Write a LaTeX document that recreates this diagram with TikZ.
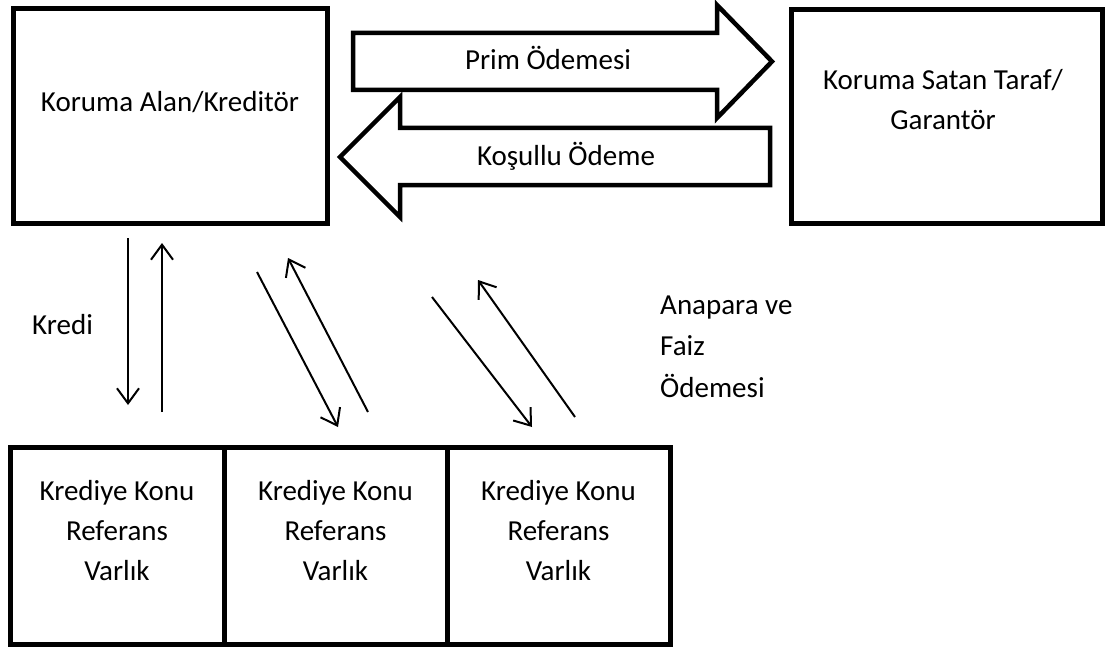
\documentclass[tikz,border=0pt]{standalone}
\usepackage{fontspec}
\setmainfont{Carlito}
\usetikzlibrary{arrows.meta}
\begin{document}
\begin{tikzpicture}[x=1pt,y=-1pt,
  box/.style={draw=black,line width=5pt,fill=white,inner sep=0pt,minimum width=#1},
  lbl/.style={inner sep=0pt,anchor=base,font=\fontsize{29}{40}\selectfont,align=center},
  lbll/.style={inner sep=0pt,anchor=base west,font=\fontsize{29}{41.5}\selectfont,align=left},
  bigarrow/.style={draw=black,line width=4.5pt,fill=white,line join=miter},
  thin/.style={draw=black,line width=2pt,-{Straight Barb[length=15pt,width=22pt,line width=2pt]}}
]
\useasboundingbox (0,0) rectangle (1107,647);

% main boxes
\node[box=314pt,minimum height=214pt] (ka) at (170,116) {};
\node[box=311pt,minimum height=213pt] (ks) at (946.5,116.5) {};
\node[lbl] (ka-t) at (170,112) {Koruma Alan/Kreditör};
\node[lbl] (ks-t) at (943,130) {Koruma Satan Taraf/\\Garantör};

% big arrows
\draw[bigarrow] (353,33) -- (717,33) -- (717,5) -- (772,61.5) -- (717,118) -- (717,90) -- (353,90) -- cycle;
\draw[bigarrow] (770,128) -- (400,128) -- (400,97) -- (340,157) -- (400,217) -- (400,185) -- (770,185) -- cycle;
\node[lbl] (prim) at (548,70) {Prim Ödemesi};
\node[lbl] (kosul) at (566,165) {Koşullu Ödeme};

% bottom boxes
\node[box=214pt,minimum height=197pt] (r1) at (117,545.5) {};
\node[box=223pt,minimum height=197pt] (r2) at (335.5,545.5) {};
\node[box=223pt,minimum height=197pt] (r3) at (558.5,545.5) {};
\node[lbl] (r1-t) at (117,580) {Krediye Konu\\Referans\\Varlık};
\node[lbl] (r2-t) at (335.5,580) {Krediye Konu\\Referans\\Varlık};
\node[lbl] (r3-t) at (558.5,580) {Krediye Konu\\Referans\\Varlık};

% thin arrows
\coordinate (a1s) at (128,238); \coordinate (a1e) at (128,405);
\coordinate (a2s) at (162,412); \coordinate (a2e) at (162,243);
\coordinate (b1s) at (257,272); \coordinate (b1e) at (338,427);
\coordinate (b2s) at (368,412); \coordinate (b2e) at (288,258);
\coordinate (c1s) at (432,297); \coordinate (c1e) at (532,427);
\coordinate (c2s) at (575,417); \coordinate (c2e) at (478,280);
\draw[thin] (a1s) -- (a1e);
\draw[thin] (a2s) -- (a2e);
\draw[thin] (b1s) -- (b1e);
\draw[thin] (b2s) -- (b2e);
\draw[thin] (c1s) -- (c1e);
\draw[thin] (c2s) -- (c2e);

\node[lbll] (kredi) at (32,334) {Kredi};
\node[lbll] (faiz) at (660,397) {Anapara ve\\Faiz\\Ödemesi};
\end{tikzpicture}
\end{document}
